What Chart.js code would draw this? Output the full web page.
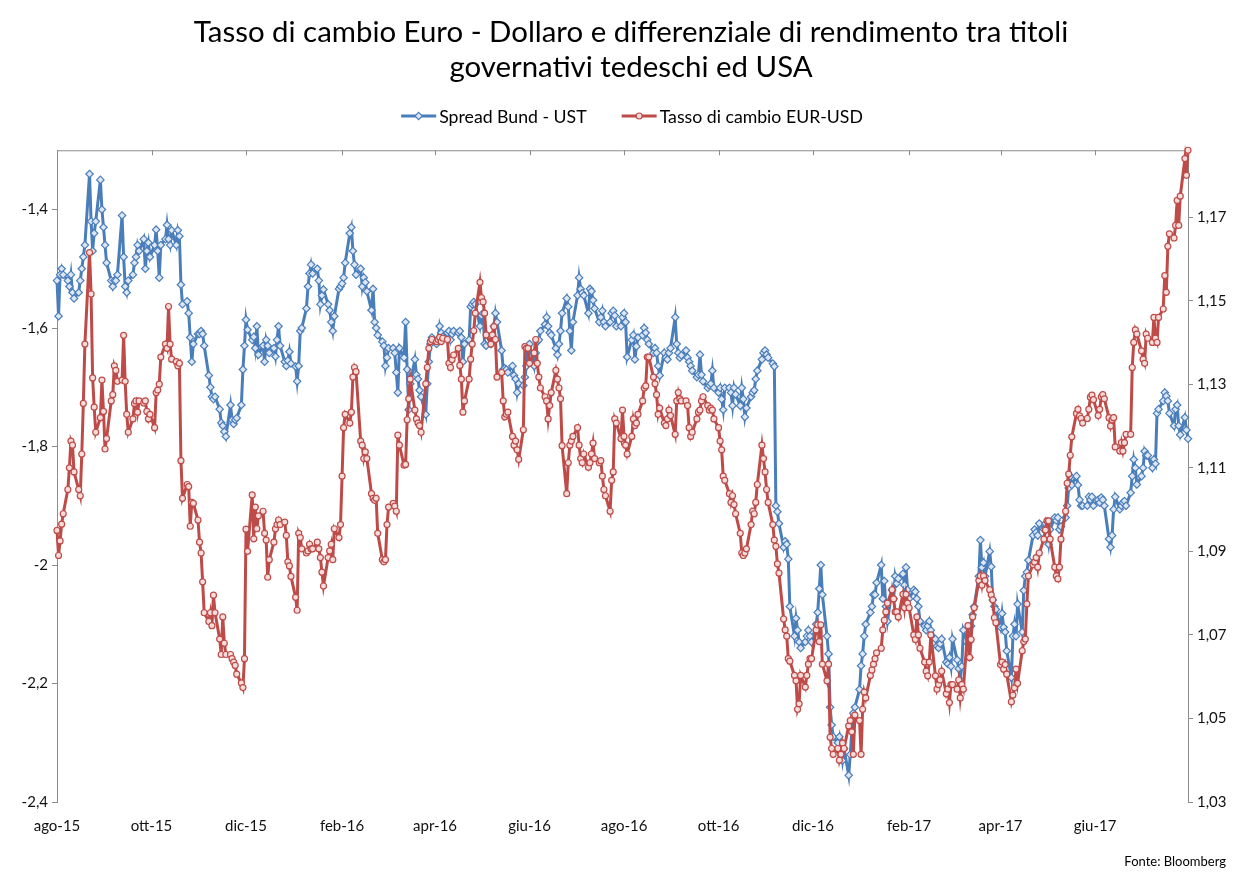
<!DOCTYPE html>
<html lang="it">
<head>
<meta charset="utf-8">
<title>Tasso di cambio Euro - Dollaro e spread Bund - UST</title>
<script src="https://cdn.jsdelivr.net/npm/chart.js@4.4.1/dist/chart.umd.min.js"></script>
<style>
  html, body { margin: 0; padding: 0; background: #ffffff; }
  #wrap { position: relative; width: 1239px; height: 872px; }
</style>
</head>
<body>
<div id="wrap"><canvas id="chart"></canvas></div>
<script>
// Daily closes, one row per trading week (Mon-Fri), from 3 Aug 2015 to 2 Aug 2017.
const firstTradingDay = '2015-08-03';

// Spread Bund - UST (10y, percentage points), left axis
const spreadBundUst = [
  -1.52, -1.58, -1.51, -1.50, -1.51,
  -1.52, -1.53, -1.51, -1.54, -1.55,
  -1.54, -1.52, -1.50, -1.48, -1.46,
  -1.34, -1.42, -1.47, -1.44, -1.42,
  -1.35, -1.40, -1.43, -1.46, -1.49,
  -1.52, -1.53, -1.52, -1.52, -1.51,
  -1.41, -1.48, -1.53, -1.54, -1.52,
  -1.51, -1.49, -1.48, -1.46, -1.47,
  -1.45, -1.50, -1.47, -1.456, -1.48,
  -1.46, -1.434, -1.47, -1.515, -1.46,
  -1.45, -1.426, -1.45, -1.46, -1.435,
  -1.46, -1.435, -1.445, -1.527, -1.56,
  -1.555, -1.575, -1.616, -1.657, -1.627,
  -1.61, -1.61, -1.605, -1.61, -1.63,
  -1.68, -1.70, -1.716, -1.72, -1.716,
  -1.737, -1.76, -1.765, -1.775, -1.783,
  -1.73, -1.755, -1.762, -1.755, -1.752,
  -1.73, -1.67, -1.63, -1.586, -1.603,
  -1.62, -1.615, -1.634, -1.597, -1.645,
  -1.63, -1.657, -1.62, -1.63, -1.642,
  -1.634, -1.648, -1.62, -1.597, -1.63,
  -1.657, -1.664, -1.655, -1.64, -1.66,
  -1.665, -1.69, -1.664, -1.605, -1.60,
  -1.567, -1.53, -1.508, -1.493, -1.508,
  -1.50, -1.52, -1.56, -1.545, -1.535,
  -1.56, -1.57, -1.59, -1.605, -1.58,
  -1.534, -1.53, -1.525, -1.515, -1.49,
  -1.44, -1.43, -1.47, -1.493, -1.51,
  -1.50, -1.53, -1.515, -1.523, -1.538,
  -1.57, -1.534, -1.59, -1.60, -1.612,
  -1.623, -1.63, -1.664, -1.65, -1.634,
  -1.634, -1.642, -1.675, -1.709, -1.634,
  -1.65, -1.59, -1.67, -1.738, -1.694,
  -1.653, -1.679, -1.686, -1.705, -1.716,
  -1.746, -1.694, -1.657, -1.627, -1.616,
  -1.627, -1.62, -1.597, -1.608, -1.615,
  -1.608, -1.605, -1.62, -1.61, -1.605,
  -1.608, -1.605, -1.616, -1.657, -1.627,
  -1.62, -1.564, -1.56, -1.556, -1.56,
  -1.597, -1.579, -1.575, -1.627, -1.63,
  -1.627, -1.62, -1.597, -1.575, -1.59,
  -1.638, -1.67, -1.668, -1.67, -1.675,
  -1.664, -1.68, -1.686, -1.709, -1.694,
  -1.697, -1.683, -1.664, -1.631, -1.627,
  -1.664, -1.642, -1.623, -1.62, -1.605,
  -1.594, -1.582, -1.597, -1.608, -1.612,
  -1.634, -1.645, -1.627, -1.605, -1.575,
  -1.55, -1.564, -1.605, -1.638, -1.59,
  -1.545, -1.515, -1.534, -1.541, -1.545,
  -1.575, -1.534, -1.538, -1.553, -1.567,
  -1.59, -1.582, -1.571, -1.59, -1.597,
  -1.59, -1.575, -1.571, -1.579, -1.597,
  -1.597, -1.582, -1.575, -1.59, -1.649,
  -1.62, -1.612, -1.653, -1.631, -1.616,
  -1.612, -1.60, -1.608, -1.62, -1.627,
  -1.642, -1.634, -1.642, -1.664, -1.68,
  -1.642, -1.65, -1.653, -1.642, -1.634,
  -1.582, -1.627, -1.642, -1.65, -1.646,
  -1.638, -1.65, -1.657, -1.664, -1.672,
  -1.683, -1.679, -1.645, -1.679, -1.69,
  -1.701, -1.697, -1.694, -1.672, -1.701,
  -1.709, -1.701, -1.72, -1.738, -1.701,
  -1.701, -1.709, -1.731, -1.701, -1.712,
  -1.731, -1.701, -1.72, -1.75, -1.735,
  -1.716, -1.709, -1.705, -1.686, -1.672,
  -1.653, -1.642, -1.638, -1.645, -1.65,
  -1.66, -1.665, -1.90, -1.91, -1.93,
  -1.97, -1.96, -1.965, -1.99, -2.07,
  -2.12, -2.09, -2.11, -2.13, -2.14,
  -2.13, -2.12, -2.11, -2.12, -2.13,
  -2.10, -2.08, -2.04, -2.00, -2.05,
  -2.12, -2.15, -2.24, -2.27, -2.29,
  -2.30, -2.29, -2.31, -2.33, -2.31,
  -2.355, -2.32, -2.28, -2.25, -2.24,
  -2.21, -2.17, -2.15, -2.12, -2.10,
  -2.08, -2.07, -2.05, -2.05, -2.03,
  -2.00, -2.057, -2.027, -2.07, -2.095,
  -2.042, -2.057, -2.019, -2.031, -2.023,
  -2.015, -2.034, -2.004, -2.042, -2.057,
  -2.042, -2.045, -2.057, -2.07, -2.095,
  -2.103, -2.11, -2.103, -2.095, -2.11,
  -2.125, -2.137, -2.14, -2.133, -2.125,
  -2.164, -2.167, -2.156, -2.171, -2.125,
  -2.16, -2.175, -2.194, -2.171, -2.11,
  -2.133, -2.156, -2.103, -2.084, -2.07,
  -2.019, -1.958, -2.004, -1.996, -2.019,
  -1.977, -2.003, -2.059, -2.07, -2.075,
  -2.105, -2.082, -2.105, -2.113, -2.145,
  -2.19, -2.12, -2.10, -2.12, -2.066,
  -2.113, -2.043, -2.019, -2.012, -1.992,
  -1.95, -1.94, -1.945, -1.95, -1.93,
  -1.94, -1.93, -1.95, -1.965, -1.94,
  -1.92, -1.925, -1.92, -1.94, -1.935,
  -1.92, -1.90, -1.87, -1.85, -1.865,
  -1.85, -1.865, -1.89, -1.90, -1.90,
  -1.90, -1.885, -1.89, -1.885, -1.90,
  -1.89, -1.895, -1.886, -1.89, -1.90,
  -1.956, -1.97, -1.95, -1.906, -1.885,
  -1.906, -1.90, -1.895, -1.892, -1.90,
  -1.878, -1.85, -1.822, -1.836, -1.864,
  -1.85, -1.836, -1.808, -1.815, -1.815,
  -1.836, -1.822, -1.829, -1.744, -1.737,
  -1.723, -1.709, -1.715, -1.723, -1.744,
  -1.765, -1.737, -1.73, -1.765, -1.78,
  -1.751, -1.772, -1.787
];

// Tasso di cambio EUR-USD, right axis
const eurUsd = [
  1.095, 1.089, 1.0925, 1.0965, 1.099,
  1.1048, 1.110, 1.1164, 1.1154, 1.109,
  1.1048, 1.1033, 1.1133, 1.1254, 1.1396,
  1.1615, 1.1516, 1.1315, 1.1245, 1.1185,
  1.122, 1.131, 1.1235, 1.1145, 1.117,
  1.126, 1.1275, 1.1344, 1.1333, 1.1307,
  1.131, 1.1417, 1.1307, 1.1228, 1.1185,
  1.1217, 1.1254, 1.126, 1.1233, 1.126,
  1.1255, 1.126, 1.1235, 1.1217, 1.1228,
  1.1196, 1.128, 1.1286, 1.130, 1.1365,
  1.1396, 1.1386, 1.1486, 1.1396, 1.136,
  1.1354, 1.1344, 1.135, 1.1117, 1.1027,
  1.106, 1.1055, 1.096, 1.1017, 1.1015,
  1.0975, 1.0922, 1.0896, 1.0827, 1.0753,
  1.0732, 1.0753, 1.0722, 1.0795, 1.0753,
  1.069, 1.0653, 1.0743, 1.068, 1.0653,
  1.0653, 1.0643, 1.0635, 1.0627, 1.0606,
  1.0585, 1.0574, 1.0643, 1.0953, 1.090,
  1.1035, 1.093, 1.1006, 1.0954, 1.0985,
  1.0996, 1.0943, 1.0927, 1.0838, 1.088,
  1.0922, 1.0954, 1.0964, 1.0975, 1.0964,
  1.097, 1.0938, 1.0875, 1.0865, 1.084,
  1.079, 1.0759, 1.0943, 1.0933, 1.0906,
  1.0896, 1.0901, 1.0917, 1.0906, 1.0906,
  1.0922, 1.0906, 1.0885, 1.085, 1.0817,
  1.0885, 1.0901, 1.0917, 1.088, 1.0954,
  1.0933, 1.0964, 1.108, 1.1196, 1.1228,
  1.1207, 1.1233, 1.1317, 1.134, 1.133,
  1.1164, 1.1154, 1.1122, 1.1138, 1.1122,
  1.1038, 1.1027, 1.1022, 1.1027, 1.0943,
  1.088, 1.0875, 1.088, 1.0964, 1.1006,
  1.1015, 1.1008, 1.0996, 1.1178, 1.1154,
  1.1106, 1.1108, 1.1215, 1.1265, 1.1312,
  1.1238, 1.1217, 1.1207, 1.1201, 1.1185,
  1.1301, 1.134, 1.1386, 1.1402, 1.1407,
  1.1402, 1.1407, 1.1412, 1.1402, 1.141,
  1.1407, 1.135, 1.134, 1.1359, 1.137,
  1.1386, 1.1345, 1.1312, 1.1233, 1.126,
  1.1312, 1.136, 1.1396, 1.1428, 1.147,
  1.1544, 1.1507, 1.1497, 1.147, 1.1418,
  1.1396, 1.1418, 1.1438, 1.1407, 1.1317,
  1.1328, 1.126, 1.1222, 1.1228, 1.1233,
  1.1175, 1.1154, 1.1164, 1.1143, 1.112,
  1.1191, 1.139, 1.1386, 1.1386, 1.135,
  1.1375, 1.1407, 1.135, 1.1317, 1.1291,
  1.127, 1.126, 1.1217, 1.1249, 1.128,
  1.1333, 1.1312, 1.1291, 1.1265, 1.1153,
  1.1038, 1.1112, 1.1154, 1.1164, 1.1175,
  1.1196, 1.1154, 1.1122, 1.1112, 1.1133,
  1.1101, 1.1112, 1.1133, 1.1159, 1.1122,
  1.1112, 1.1117, 1.108, 1.1048, 1.1033,
  1.0996, 1.107, 1.109, 1.1217, 1.1207,
  1.117, 1.1238, 1.1175, 1.1154, 1.1133,
  1.1175, 1.1217, 1.1201, 1.1207, 1.1228,
  1.126, 1.1291, 1.1296, 1.1365, 1.1365,
  1.1317, 1.1301, 1.1275, 1.1228, 1.1243,
  1.1207, 1.1201, 1.1217, 1.1238, 1.1225,
  1.118, 1.126, 1.128, 1.1265, 1.126,
  1.126, 1.1249, 1.1196, 1.1175, 1.1185,
  1.1217, 1.1233, 1.1238, 1.126, 1.127,
  1.1249, 1.1238, 1.1243, 1.1238, 1.1217,
  1.1196, 1.1164, 1.1143, 1.108, 1.107,
  1.1038, 1.1017, 1.1033, 1.1012, 1.099,
  1.0943, 1.0896, 1.089, 1.0896, 1.0906,
  1.0964, 1.0996, 1.099, 1.1017, 1.106,
  1.1154, 1.1122, 1.109, 1.1048, 1.1017,
  1.0964, 1.0927, 1.0912, 1.087, 1.0848,
  1.0738, 1.0712, 1.0697, 1.0643, 1.0637,
  1.0603, 1.059, 1.0522, 1.0535, 1.0603,
  1.0575, 1.0603, 1.063, 1.0643, 1.0643,
  1.0712, 1.0724, 1.0684, 1.0724, 1.063,
  1.059, 1.063, 1.0455, 1.0428, 1.0414,
  1.0428, 1.040, 1.0414, 1.0441, 1.0428,
  1.0482, 1.0495, 1.0468, 1.0414, 1.0508,
  1.0495, 1.0414, 1.0522, 1.0563, 1.0549,
  1.0603, 1.0616, 1.063, 1.0643, 1.0657,
  1.0668, 1.0712, 1.0735, 1.0755, 1.0776,
  1.0808, 1.0786, 1.0755, 1.0755, 1.0743,
  1.0797, 1.0765, 1.0797, 1.0776, 1.0765,
  1.070, 1.0689, 1.0743, 1.070, 1.0668,
  1.0635, 1.0613, 1.0602, 1.0635, 1.070,
  1.0602, 1.057, 1.0581, 1.0592, 1.0613,
  1.0559, 1.057, 1.0538, 1.0581, 1.0581,
  1.057, 1.0592, 1.0549, 1.0581, 1.057,
  1.0722, 1.0646, 1.0689, 1.0743, 1.0765,
  1.083, 1.0841, 1.0819, 1.0841, 1.083,
  1.0808, 1.0796, 1.0784, 1.0741, 1.0729,
  1.0629, 1.0635, 1.0618, 1.0629, 1.0606,
  1.054, 1.0556, 1.0573, 1.0618, 1.0584,
  1.0662, 1.0684, 1.069, 1.0774, 1.0841,
  1.0868, 1.0874, 1.0885, 1.0862, 1.0896,
  1.0929, 1.0951, 1.0973, 1.0973, 1.0929,
  1.0862, 1.0841, 1.0834, 1.0862, 1.0929,
  1.0996, 1.1063, 1.1085, 1.113, 1.1174,
  1.123, 1.124, 1.1224, 1.1218, 1.1207,
  1.1218, 1.124, 1.1269, 1.1274, 1.1263,
  1.1225, 1.124, 1.127, 1.1275, 1.1265,
  1.122, 1.120, 1.1215, 1.122, 1.115,
  1.114, 1.116, 1.114, 1.116, 1.118,
  1.118, 1.134, 1.140, 1.143, 1.142,
  1.138, 1.136, 1.135, 1.142, 1.141,
  1.140, 1.146, 1.141, 1.140, 1.146,
  1.148, 1.156, 1.152, 1.163, 1.166,
  1.165, 1.168, 1.174, 1.168, 1.175,
  1.184, 1.180, 1.186
];

// Axis labels
const tickLabels = ['ago-15', 'ott-15', 'dic-15', 'feb-16', 'apr-16', 'giu-16',
                    'ago-16', 'ott-16', 'dic-16', 'feb-17', 'apr-17', 'giu-17'];
const leftTickValues = [-2.4, -2.2, -2.0, -1.8, -1.6, -1.4];
const leftTickLabels = ['-2,4', '-2,2', '-2', '-1,8', '-1,6', '-1,4'];
const rightTickValues = [1.03, 1.05, 1.07, 1.09, 1.11, 1.13, 1.15, 1.17];
const rightTickLabels = ['1,03', '1,05', '1,07', '1,09', '1,11', '1,13', '1,15', '1,17'];
const sourceNote = 'Fonte: Bloomberg';

// ---- calendar: weekday offsets (in days) from the first trading day ----
const DAY_MS = 86400000;
const [fy, fm, fd] = firstTradingDay.split('-').map(Number);
const startMs = Date.UTC(fy, fm - 1, fd);
const dayOffsets = [];
for (let d = 0; dayOffsets.length < eurUsd.length; d++) {
  const wd = new Date(startMs + d * DAY_MS).getUTCDay();
  if (wd !== 0 && wd !== 6) dayOffsets.push(d);
}
const lastOffset = dayOffsets[dayOffsets.length - 1];
// one labelled tick every two months, on the same day of month as the first date
const tickOffsets = tickLabels.map((_, k) =>
  Math.round((Date.UTC(fy, fm - 1 + 2 * k, fd) - startMs) / DAY_MS));

const toPoints = arr => arr.map((v, i) => ({ x: dayOffsets[i], y: v }));

const FONT = 'Lato, "Open Sans", "DejaVu Sans", sans-serif';
const AXIS_GREY = '#8c8c8c';
const BLUE = '#4a7ebb';
const RED = '#be4b48';

// Line-and-marker key drawn under the title
const seriesKey = {
  id: 'seriesKey',
  afterDraw(chart, args, o) {
    const { ctx } = chart;
    ctx.save();
    ctx.font = `${o.size}px ${FONT}`;
    const items = chart.data.datasets.map(ds => ({ ds, w: ctx.measureText(ds.label).width }));
    const total = items.reduce((s, it) => s + o.sample + o.textGap + it.w, 0) + o.itemGap * (items.length - 1);
    let x = o.centerX - total / 2;
    const y = o.y;
    items.forEach(({ ds, w }) => {
      ctx.strokeStyle = ds.borderColor;
      ctx.lineWidth = ds.borderWidth;
      ctx.beginPath();
      ctx.moveTo(x, y);
      ctx.lineTo(x + o.sample, y);
      ctx.stroke();
      const cx = x + o.sample / 2, r = ds.pointRadius;
      ctx.fillStyle = ds.pointBackgroundColor;
      ctx.strokeStyle = ds.pointBorderColor;
      ctx.lineWidth = ds.pointBorderWidth;
      ctx.beginPath();
      if (ds.pointStyle === 'rectRot') {
        ctx.moveTo(cx, y - r); ctx.lineTo(cx + r, y); ctx.lineTo(cx, y + r); ctx.lineTo(cx - r, y); ctx.closePath();
      } else {
        ctx.arc(cx, y, r, 0, Math.PI * 2);
      }
      ctx.fill();
      ctx.stroke();
      ctx.fillStyle = o.color;
      ctx.textBaseline = 'middle';
      ctx.textAlign = 'left';
      ctx.fillText(ds.label, x + o.sample + o.textGap, y + 1);
      x += o.sample + o.textGap + w + o.itemGap;
    });
    ctx.restore();
  }
};

// Horizontal axis line along the top of the plot, with inward tick marks
const topAxisLine = {
  id: 'topAxisLine',
  beforeDatasetsDraw(chart, args, o) {
    const { ctx, chartArea: { left, right, top }, scales: { x } } = chart;
    ctx.save();
    ctx.strokeStyle = o.color;
    ctx.lineWidth = 1;
    ctx.beginPath();
    ctx.moveTo(left, top + 0.5);
    ctx.lineTo(right, top + 0.5);
    x.ticks.forEach(t => {
      const px = Math.round(x.getPixelForValue(t.value)) + 0.5;
      ctx.moveTo(px, top);
      ctx.lineTo(px, top + o.tickLength);
    });
    ctx.stroke();
    ctx.restore();
  }
};

// Source line in the bottom-right corner
const sourceLine = {
  id: 'sourceLine',
  afterDraw(chart, args, o) {
    const { ctx } = chart;
    ctx.save();
    ctx.font = `${o.size}px ${FONT}`;
    ctx.fillStyle = o.color;
    ctx.textAlign = 'right';
    ctx.textBaseline = 'middle';
    ctx.fillText(o.text, o.right, o.y);
    ctx.restore();
  }
};

new Chart(document.getElementById('chart'), {
  type: 'line',
  data: {
    datasets: [
      {
        label: 'Spread Bund - UST',
        data: toPoints(spreadBundUst),
        yAxisID: 'y',
        order: 1,
        borderColor: BLUE,
        borderWidth: 3,
        pointStyle: 'rectRot',
        pointRadius: 3.7,
        pointBorderWidth: 1.2,
        pointBorderColor: BLUE,
        pointBackgroundColor: '#dce6f4',
        tension: 0,
        clip: false
      },
      {
        label: 'Tasso di cambio EUR-USD',
        data: toPoints(eurUsd),
        yAxisID: 'y1',
        order: 0,
        borderColor: RED,
        borderWidth: 3,
        pointStyle: 'circle',
        pointRadius: 3,
        pointBorderWidth: 1.2,
        pointBorderColor: RED,
        pointBackgroundColor: '#f6dcdb',
        tension: 0,
        clip: false
      }
    ]
  },
  options: {
    responsive: true,
    maintainAspectRatio: false,
    animation: false,
    events: [],
    // the negative right padding centres the full-width title over x = 631
    layout: { padding: { left: 0, right: -23, top: 0, bottom: 22 } },
    scales: {
      x: {
        type: 'linear',
        position: 'bottom',
        min: 0,
        max: lastOffset,
        afterBuildTicks: s => { s.ticks = tickOffsets.map(v => ({ value: v })); },
        ticks: {
          autoSkip: false,
          maxRotation: 0,
          padding: 15,
          color: '#111',
          font: { family: FONT, size: 15 },
          callback: (v, i) => tickLabels[i]
        },
        grid: { display: false, drawTicks: false },
        border: { display: false }
      },
      y: {
        position: 'left',
        min: -2.4,
        max: -1.3,
        afterBuildTicks: s => { s.ticks = leftTickValues.map(v => ({ value: v })); },
        afterFit: s => { s.width = 57; },
        ticks: {
          padding: 4,
          color: '#111',
          font: { family: FONT, size: 15 },
          callback: (v, i) => leftTickLabels[i]
        },
        grid: { display: true, drawOnChartArea: false, drawTicks: true, tickLength: 5, color: AXIS_GREY },
        border: { display: true, color: AXIS_GREY, width: 1 }
      },
      y1: {
        position: 'right',
        min: 1.03,
        max: 1.186,
        afterBuildTicks: s => { s.ticks = rightTickValues.map(v => ({ value: v })); },
        afterFit: s => { s.width = 74; },
        ticks: {
          padding: 4,
          color: '#111',
          font: { family: FONT, size: 15 },
          callback: (v, i) => rightTickLabels[i]
        },
        grid: { display: true, drawOnChartArea: false, drawTicks: true, tickLength: 5, color: AXIS_GREY },
        border: { display: true, color: AXIS_GREY, width: 1 }
      }
    },
    plugins: {
      legend: { display: false },
      tooltip: { enabled: false },
      title: {
        display: true,
        text: ['Tasso di cambio Euro - Dollaro e differenziale di rendimento tra titoli',
               'governativi tedeschi ed USA'],
        color: '#000',
        font: { family: FONT, size: 29.4, weight: 'normal', lineHeight: 1.195 },
        padding: { top: 15, bottom: 65 }
      },
      seriesKey: { y: 116, centerX: 632, size: 17.7, sample: 35, textGap: 3, itemGap: 35, color: '#000' },
      topAxisLine: { color: AXIS_GREY, tickLength: 5 },
      sourceLine: { text: sourceNote, right: 1226, y: 862, size: 13, color: '#000' }
    }
  },
  plugins: [seriesKey, topAxisLine, sourceLine]
});
</script>
</body>
</html>
